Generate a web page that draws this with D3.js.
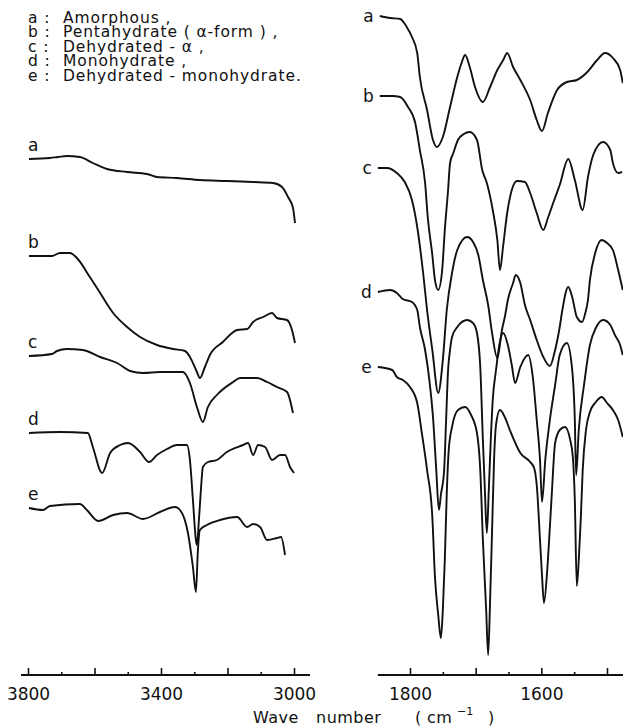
<!DOCTYPE html>
<html>
<head>
<meta charset="utf-8">
<script src="https://cdn.jsdelivr.net/npm/d3@7"></script>
<style>
  body { margin: 0; background: #fff; }
  svg { display: block; font-family: "DejaVu Sans", sans-serif; }
</style>
</head>
<body>
<svg id="chart" width="623" height="728"></svg>
<script>
// IR spectra, [wavenumber (cm-1), relative transmittance (offset per trace)]

// 3800 - 3000 cm-1 region
const leftA = [[3797,103.2],[3734,103.4],[3710,103.6],[3683,103.8],[3644,103.6],[3605,102.4],[3562,101.2],[3502,100.6],[3442,100.2],[3412,99.6],[3352,99.4],[3283,99],[3202,98.8],[3123,98.6],[3063,98.4],[3036,97.6],[3018,95.6],[3003,93.4],[2997,90.4]];
const leftB = [[3797,83.8],[3728,83.8],[3704,84.4],[3674,84.4],[3653,83.4],[3614,79.6],[3583,76.4],[3544,72.4],[3502,69.6],[3463,67.6],[3412,66],[3364,65.2],[3328,64.8],[3313,63.6],[3292,60.6],[3283,59.4],[3268,61.6],[3253,64],[3214,66.6],[3171,69],[3141,69.2],[3123,70.6],[3093,71.6],[3066,72.4],[3051,71.4],[3021,71],[3006,69],[2997,66.4]];
const leftC = [[3797,63.8],[3728,64.2],[3713,64.8],[3683,65.2],[3635,65],[3583,63.6],[3532,62.4],[3493,60.8],[3454,60.4],[3403,60.6],[3334,60.6],[3313,58.4],[3292,53.6],[3274,50.6],[3259,53.6],[3232,56],[3183,58.6],[3162,59.4],[3111,59.4],[3081,58.6],[3051,57.6],[3021,56.6],[3003,52.4]];
const leftD = [[3797,48.4],[3704,48.6],[3620,48.4],[3605,45.6],[3577,40.4],[3553,44.4],[3523,46],[3499,46.4],[3463,44.6],[3436,42.6],[3412,44],[3382,45.2],[3352,46],[3322,46],[3313,43],[3304,35],[3295,27],[3292,26],[3286,31],[3280,37],[3274,41.6],[3259,42.6],[3232,43],[3202,44.6],[3153,46],[3138,46.4],[3123,44],[3108,46],[3087,45.6],[3066,43],[3042,44],[3027,44],[3012,41.6],[3000,40.4]];
const leftE = [[3797,33.4],[3755,33],[3734,33.8],[3644,34.2],[3623,33],[3589,30.8],[3544,32],[3502,32.4],[3454,31.2],[3403,32.6],[3358,33.6],[3337,32.4],[3319,28.4],[3304,21.6],[3295,16.6],[3289,25],[3283,29],[3262,30],[3223,31],[3171,31.6],[3141,29.6],[3123,30.2],[3102,29.6],[3081,27],[3051,27.4],[3039,27.6],[3027,24]];

// 1850 - 1475 cm-1 region
const rightA = [[1846,131.8],[1830,131.4],[1815,131.2],[1805,129.6],[1797,127.6],[1789,124.4],[1785,119.6],[1774,113],[1765,107],[1759,105.6],[1750,107.6],[1739,113.6],[1728,119.6],[1721,122.6],[1716,124],[1709,121.6],[1701,117.6],[1689,114.6],[1678,117.6],[1667,121],[1658,123],[1652,124.4],[1643,121.6],[1632,119],[1617,115],[1607,111],[1599,108.8],[1590,112.4],[1576,117],[1561,118.6],[1546,119],[1530,120.6],[1515,123],[1503,124.4],[1491,123.4],[1480,121],[1476,118.4]];
const rightB = [[1846,115.8],[1827,115.8],[1815,115.6],[1803,113.6],[1792,110.4],[1785,105],[1777,98.4],[1773,91.6],[1766,84],[1762,79],[1757,77],[1751,81],[1747,89],[1742,97],[1739,102.4],[1734,104.4],[1727,107],[1718,108.2],[1709,108.6],[1698,107],[1690,101],[1683,98.4],[1674,93],[1667,87],[1663,81],[1658,86],[1652,92.4],[1645,97],[1637,98.8],[1625,98.6],[1617,96.4],[1607,92.4],[1597,89],[1590,91.4],[1582,94.4],[1572,98],[1559,103.2],[1549,99],[1537,93],[1529,99.6],[1521,104],[1506,106.6],[1495,105],[1491,102.4],[1483,100.4],[1477,100.6]];
const rightC = [[1849,101.4],[1835,101.4],[1820,100.4],[1808,98.6],[1797,95],[1789,89.6],[1780,80.4],[1774,73],[1766,65],[1757,56.4],[1750,63],[1744,73],[1736,80.4],[1728,85],[1713,87.6],[1704,86.6],[1696,84],[1689,79],[1681,74],[1675,68.4],[1667,63.4],[1660,69],[1655,72],[1651,75],[1643,78.4],[1639,80],[1632,78.4],[1625,74],[1617,71],[1607,67],[1597,63.6],[1587,61.8],[1579,65],[1572,69.6],[1568,73],[1559,77.6],[1553,75.6],[1546,71.6],[1538,70.6],[1533,72.4],[1529,75],[1526,79],[1518,84.4],[1508,87],[1500,86.4],[1491,85],[1483,81],[1476,77]];
const rightD = [[1849,76.6],[1830,77],[1820,76.4],[1811,75.2],[1797,74.6],[1789,73],[1785,69.6],[1777,65],[1770,58.4],[1765,51.6],[1760,41],[1756,33],[1753,36],[1748,41],[1745,51],[1742,61],[1739,65],[1736,67.6],[1728,69.6],[1713,71],[1704,70.4],[1698,68.4],[1693,61.6],[1689,47],[1686,37],[1683,28.4],[1680,37],[1677,47],[1674,55],[1669,61],[1664,66],[1658,68.4],[1651,66],[1645,62],[1640,58.4],[1632,61.6],[1620,64],[1613,59.6],[1607,51],[1602,43],[1599,34.6],[1594,43],[1587,51],[1579,58],[1572,64],[1561,66.4],[1553,61],[1549,51],[1547,40],[1543,49],[1535,58],[1526,66],[1517,69.4],[1506,71],[1495,70],[1488,68],[1480,66],[1476,64]];
const rightE = [[1849,61.6],[1827,61],[1820,59.6],[1811,59],[1800,57.6],[1789,54.4],[1782,48.4],[1774,41],[1766,31.6],[1762,19.6],[1757,12],[1753,7.4],[1750,13],[1747,23],[1744,36.4],[1741,45],[1736,49.6],[1727,53],[1716,53.6],[1707,52],[1698,48.4],[1693,41],[1689,27],[1684,13],[1681,4],[1678,15],[1675,29],[1672,43],[1669,50],[1663,53],[1655,51.4],[1648,49],[1632,44.4],[1617,42.6],[1611,41.4],[1607,38],[1602,27],[1599,20],[1596,14.4],[1591,21],[1587,29.6],[1584,36.4],[1579,46.4],[1572,49],[1564,49.6],[1556,47],[1552,43.6],[1549,35],[1546,17.8],[1543,23],[1540,31],[1537,41],[1532,49],[1526,52.6],[1517,54.6],[1508,55.6],[1500,54.4],[1491,53],[1483,51],[1476,47.6]];

const keys = ["a", "b", "c", "d", "e"];
const names = ["Amorphous ,", "Pentahydrate ( α-form ) ,", "Dehydrated - α ,", "Monohydrate ,", "Dehydrated - monohydrate."];

const leftMajorTicks = [3800, 3600, 3400, 3200, 3000];
const leftMinorTicks = [3700, 3500, 3300, 3100];
const leftTickLabels = [3800, 3400, 3000];
const leftSpan = [3821, 2952];

const rightMajorTicks = [1800, 1700, 1600, 1500];
const rightMinorTicks = [1750, 1650, 1550];
const rightTickLabels = [1800, 1600];
const rightSpan = [1849, 1475];

const ink = "#111";
const svg = d3.select("#chart");
const baseY = 675;

const y = d3.scaleLinear().domain([0, 135]).range([baseY, 0]);
const xLeft = d3.scaleLinear().domain([3800, 3000]).range([28, 294]);
const xRight = d3.scaleLinear().domain([1800, 1500]).range([410, 607]);

function drawPanel(x, series, major, minor, labels, span, side){
    const line = d3.line()
        .x(d => x(d[0]))
        .y(d => y(d[1]))
        .curve(d3.curveMonotoneX);

    svg.append("g")
        .selectAll("path")
        .data(series)
        .enter().append("path")
        .attr("d", line)
        .attr("fill", "none")
        .attr("stroke", ink)
        .attr("stroke-width", 1.9)
        .attr("stroke-linejoin", "round");

    // trace letters
    svg.append("g")
        .selectAll("text")
        .data(series)
        .enter().append("text")
        .attr("x", d => side === "left" ? x(d[0][0]) - 1 : x(d[0][0]) - 6)
        .attr("y", d => side === "left" ? y(d[0][1]) - 8 : y(d[0][1]) + 6)
        .attr("text-anchor", side === "left" ? "start" : "end")
        .attr("font-size", 17)
        .attr("fill", ink)
        .text((d, i) => keys[i]);

    const gAxis = svg.append("g")
        .attr("transform", "translate(0," + baseY + ")")
        .attr("color", ink);

    gAxis.append("line")
        .attr("x1", x(span[0]))
        .attr("x2", x(span[1]))
        .attr("stroke", ink)
        .attr("stroke-width", 2);

    gAxis.append("g")
        .call(d3.axisBottom(x).tickValues(minor).tickSizeInner(-3).tickSizeOuter(0).tickFormat(""))
        .call(g => g.select(".domain").remove())
        .selectAll("line").attr("stroke-width", 1.6);

    gAxis.append("g")
        .call(d3.axisBottom(x).tickValues(major).tickSizeInner(-7).tickSizeOuter(0).tickPadding(13)
            .tickFormat(d => labels.includes(d) ? d : ""))
        .call(g => g.select(".domain").remove())
        .call(g => g.selectAll("line").attr("stroke-width", 1.6))
        .call(g => g.selectAll("text")
            .attr("font-family", "DejaVu Sans, sans-serif")
            .attr("font-size", 17)
            .attr("fill", ink));
}

drawPanel(xLeft, [leftA, leftB, leftC, leftD, leftE], leftMajorTicks, leftMinorTicks, leftTickLabels, leftSpan, "left");
drawPanel(xRight, [rightA, rightB, rightC, rightD, rightE], rightMajorTicks, rightMinorTicks, rightTickLabels, rightSpan, "right");

// legend block
const legend = svg.append("g")
    .attr("font-size", 15.5)
    .attr("letter-spacing", 0.9)
    .attr("fill", ink);
keys.forEach((k, i) => {
    legend.append("text").attr("x", 28).attr("y", 23 + i * 14.4).text(k + " :");
    legend.append("text").attr("x", 63).attr("y", 23 + i * 14.4).text(names[i]);
});

// axis title
const title = svg.append("text")
    .attr("y", 723)
    .attr("font-size", 16)
    .attr("letter-spacing", 0.5)
    .attr("fill", ink);
title.append("tspan").attr("x", 253).text("Wave");
title.append("tspan").attr("x", 316).text("number");
title.append("tspan").attr("x", 415).text("(");
title.append("tspan").attr("x", 427).text("cm");
title.append("tspan").attr("x", 457).attr("dy", -8).attr("font-size", 11).attr("letter-spacing", 0).text("−1");
title.append("tspan").attr("x", 488).attr("dy", 8).text(")");
</script>
</body>
</html>
